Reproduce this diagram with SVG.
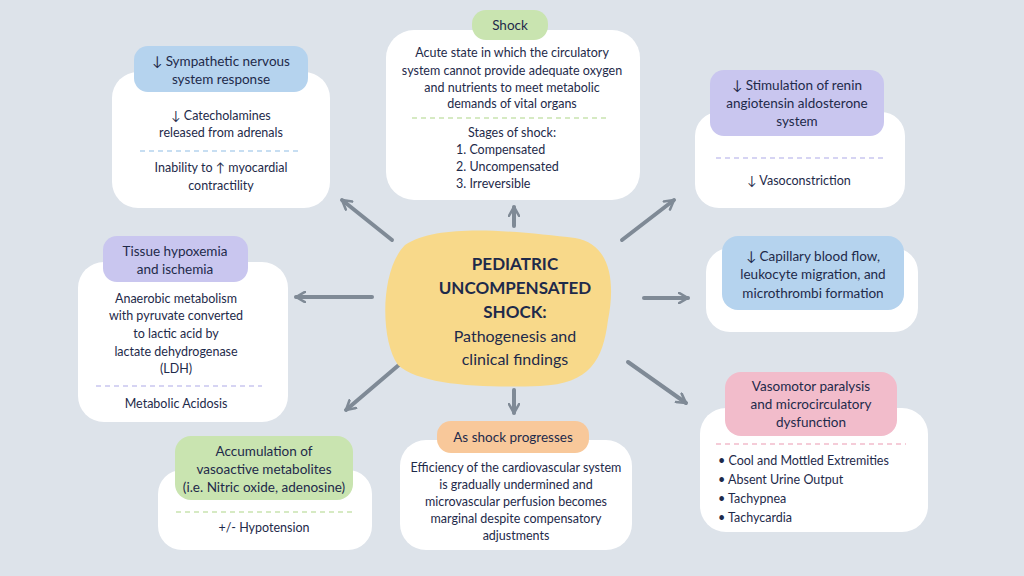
<svg xmlns="http://www.w3.org/2000/svg" width="1024" height="576" viewBox="0 0 1024 576">
<defs>
<style>
text{font-family:"Lato","Open Sans",sans-serif;font-size:12.5px;fill:#1e2a4a;text-anchor:middle}
.card{fill:#fff}
.t{font-size:13.5px}
.l{text-anchor:start}
.dash{stroke-width:1.5;stroke-dasharray:5 4}
.con{stroke:#7f8a96;stroke-width:4;fill:none;stroke-linecap:round;marker-end:url(#ah)}
</style>
<marker id="ah" viewBox="0 0 10 10" refX="8" refY="5" markerWidth="3.2" markerHeight="3.2" orient="auto"><path d="M1,1 L8,5 L1,9" fill="none" stroke="#7f8a96" stroke-width="2" stroke-linecap="round" stroke-linejoin="round"/></marker>
</defs>
<rect width="1024" height="576" fill="#dde3ea"/>
<g id="connectors">
<path class="con" d="M392,240 L342,200"/>
<path class="con" d="M514,226 L514,207"/>
<path class="con" d="M622,240 L674,200"/>
<path class="con" d="M372,297 L296,297"/>
<path class="con" d="M644,298 L688,298"/>
<path class="con" d="M628,362 L686,403"/>
<path class="con" d="M514,390 L514,413"/>
<path class="con" d="M400,364 L346,410"/>
</g>
<g id="center">
<path d="M405,245 C440,222 520,232 575,238 C615,245 614,290 608,320 C603,360 590,384 540,386 C480,388 420,385 398,365 C380,340 380,270 405,245 Z" fill="#f8d98a"/>
<text x="515" y="270" style="font-size:17px;font-weight:bold">PEDIATRIC</text>
<text x="515" y="294" style="font-size:17px;font-weight:bold">UNCOMPENSATED</text>
<text x="515" y="318" style="font-size:17px;font-weight:bold">SHOCK:</text>
<text x="515" y="342" style="font-size:16px">Pathogenesis and</text>
<text x="515" y="365" style="font-size:16px">clinical findings</text>
</g>
<g id="sympathetic">
<rect class="card" x="112" y="72" width="218" height="136" rx="26"/>
<rect x="134" y="46" width="174" height="46" rx="14" fill="#b5d3ee"/>
<text class="t" x="221" y="66">↓ Sympathetic nervous</text>
<text class="t" x="221" y="84">system response</text>
<text x="221" y="120">↓ Catecholamines</text>
<text x="221" y="137">released from adrenals</text>
<line class="dash" x1="140" y1="151" x2="302" y2="151" stroke="#b5d3ee"/>
<text x="221" y="172">Inability to ↑ myocardial</text>
<text x="221" y="190">contractility</text>
</g>
<g id="shock">
<rect class="card" x="386" y="30" width="254" height="170" rx="28"/>
<rect x="472" y="10" width="76" height="30" rx="14" fill="#c9e4b0"/>
<text class="t" x="510" y="30">Shock</text>
<text x="512" y="57">Acute state in which the circulatory</text>
<text x="512" y="75">system cannot provide adequate oxygen</text>
<text x="512" y="92">and nutrients to meet metabolic</text>
<text x="512" y="108">demands of vital organs</text>
<line class="dash" x1="412" y1="118" x2="610" y2="118" stroke="#c9e4b0"/>
<text x="512" y="137">Stages of shock:</text>
<text class="l" x="456" y="154">1.  Compensated</text>
<text class="l" x="456" y="171">2.  Uncompensated</text>
<text class="l" x="456" y="188">3.  Irreversible</text>
</g>
<g id="renin">
<rect class="card" x="695" y="112" width="210" height="96" rx="24"/>
<rect x="710" y="70" width="174" height="66" rx="14" fill="#c9c6ef"/>
<text class="t" x="797" y="90">↓ Stimulation of renin</text>
<text class="t" x="797" y="108">angiotensin aldosterone</text>
<text class="t" x="797" y="126">system</text>
<line class="dash" x1="716" y1="158" x2="884" y2="158" stroke="#c9c6ef"/>
<text x="799" y="185">↓ Vasoconstriction</text>
</g>
<g id="capillary">
<rect class="card" x="706" y="248" width="212" height="84" rx="24"/>
<rect x="722" y="236" width="182" height="74" rx="16" fill="#b5d3ee"/>
<text class="t" x="813" y="261">↓ Capillary blood flow,</text>
<text class="t" x="813" y="279">leukocyte migration, and</text>
<text class="t" x="813" y="298">microthrombi formation</text>
</g>
<g id="vasomotor">
<rect class="card" x="700" y="408" width="228" height="124" rx="26"/>
<rect x="725" y="372" width="172" height="64" rx="16" fill="#f2bccb"/>
<text class="t" x="811" y="391">Vasomotor paralysis</text>
<text class="t" x="811" y="409">and microcirculatory</text>
<text class="t" x="811" y="427">dysfunction</text>
<line class="dash" x1="716" y1="444" x2="906" y2="444" stroke="#f2bccb"/>
<text class="l" x="718" y="465">•   Cool and Mottled Extremities</text>
<text class="l" x="718" y="484">•   Absent Urine Output</text>
<text class="l" x="718" y="503">•   Tachypnea</text>
<text class="l" x="718" y="522">•   Tachycardia</text>
</g>
<g id="tissue">
<rect class="card" x="78" y="262" width="210" height="160" rx="26"/>
<rect x="103" y="236" width="145" height="46" rx="14" fill="#c9c6ef"/>
<text class="t" x="175" y="256">Tissue hypoxemia</text>
<text class="t" x="175" y="274">and ischemia</text>
<text x="176" y="303">Anaerobic metabolism</text>
<text x="176" y="320">with pyruvate converted</text>
<text x="176" y="338">to lactic acid by</text>
<text x="176" y="356">lactate dehydrogenase</text>
<text x="176" y="373">(LDH)</text>
<line class="dash" x1="96" y1="386" x2="262" y2="386" stroke="#c9c6ef"/>
<text x="176" y="408">Metabolic Acidosis</text>
</g>
<g id="accumulation">
<rect class="card" x="158" y="470" width="214" height="80" rx="24"/>
<rect x="175" y="436" width="178" height="64" rx="16" fill="#c9e4b0"/>
<text class="t" x="264" y="456">Accumulation of</text>
<text class="t" x="264" y="474">vasoactive metabolites</text>
<text class="t" x="264" y="492">(i.e. Nitric oxide, adenosine)</text>
<line class="dash" x1="176" y1="512" x2="352" y2="512" stroke="#c9e4b0"/>
<text x="264" y="532">+/- Hypotension</text>
</g>
<g id="progresses">
<rect class="card" x="400" y="440" width="232" height="110" rx="26"/>
<rect x="437" y="421" width="152" height="32" rx="14" fill="#f8c89a"/>
<text class="t" x="513" y="442">As shock progresses</text>
<text x="516" y="472">Efficiency of the cardiovascular system</text>
<text x="516" y="489">is gradually undermined and</text>
<text x="516" y="506">microvascular perfusion becomes</text>
<text x="516" y="523">marginal despite compensatory</text>
<text x="516" y="540">adjustments</text>
</g>
</svg>
